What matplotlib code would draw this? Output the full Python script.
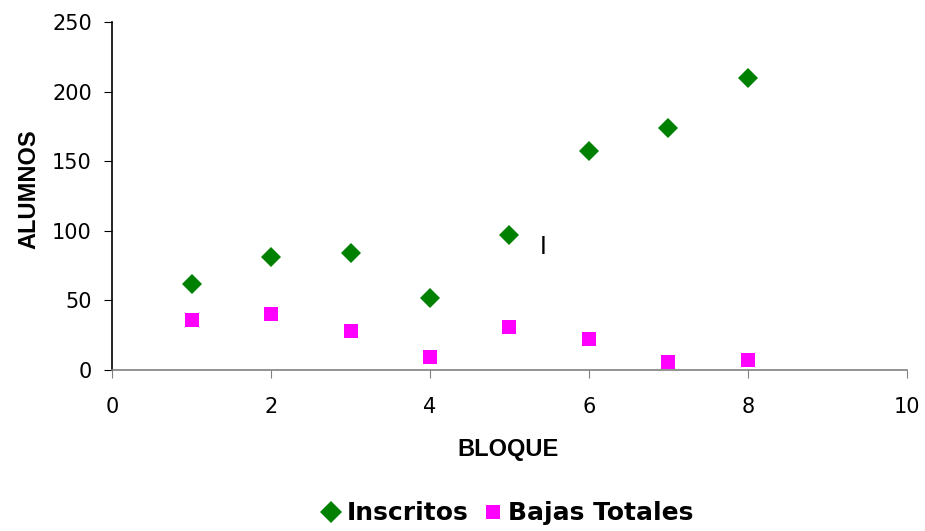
import matplotlib
matplotlib.use("Agg")
import matplotlib.pyplot as plt
from matplotlib.lines import Line2D

bloque = [1, 2, 3, 4, 5, 6, 7, 8]
inscritos = [62, 81, 84, 52, 97, 157, 174, 210]
bajas = [36, 40, 28, 9, 31, 22, 6, 7]
x_ticks = [0, 2, 4, 6, 8, 10]
y_ticks = [0, 50, 100, 150, 200, 250]

plt.rcParams['font.family'] = ['Liberation Sans', 'DejaVu Sans']

fig = plt.figure(figsize=(9.25, 5.31), dpi=100)
ax = fig.add_axes([0.1211, 0.3032, 0.8594, 0.6554])

ax.plot(bloque, inscritos, linestyle='none', marker='D', markersize=10.5,
        color='#008000', markeredgewidth=0, label='Inscritos')
ax.plot(bloque, bajas, linestyle='none', marker='s', markersize=10,
        color='#ff00ff', markeredgewidth=0, label='Bajas Totales')

ax.set_xlim(0, 10)
ax.set_ylim(0, 250)
ax.set_xticks(x_ticks)
ax.set_yticks(y_ticks)
ax.tick_params(axis='both', labelsize=15, direction='out', length=5.5)
ax.tick_params(axis='x', color='#808080', pad=14)
ax.tick_params(axis='y', color='black', pad=9)
for lbl in ax.get_xticklabels() + ax.get_yticklabels():
    lbl.set_family('DejaVu Sans')

for s in ['top', 'right']:
    ax.spines[s].set_visible(False)
ax.spines['bottom'].set_color('#808080')
ax.spines['bottom'].set_linewidth(1.2)
ax.spines['left'].set_color('black')
ax.spines['left'].set_linewidth(1.2)

ax.set_xlabel('BLOQUE', fontsize=17, fontweight='bold')
ax.set_ylabel('ALUMNOS', fontsize=17, fontweight='bold')
ax.xaxis.set_label_coords(0.4987, -0.195)
ax.yaxis.set_label_coords(-0.0906, 0.52)

ax.text(5.42, 88.7, 'I', fontsize=18, ha='center', va='center')

handles = [
    Line2D([], [], linestyle='none', marker='D', markersize=11, color='#008000', markeredgewidth=0),
    Line2D([], [], linestyle='none', marker='s', markersize=9.5, color='#ff00ff', markeredgewidth=0),
]
fig.legend(handles, ['Inscritos', 'Bajas Totales'], loc='center', bbox_to_anchor=(0.55, 0.033),
           ncol=2, frameon=False, handlelength=0.6, handletextpad=0.3, columnspacing=0.7,
           prop={'family': 'DejaVu Sans', 'weight': 'bold', 'size': 18})

fig.savefig('out.png', dpi=100)
